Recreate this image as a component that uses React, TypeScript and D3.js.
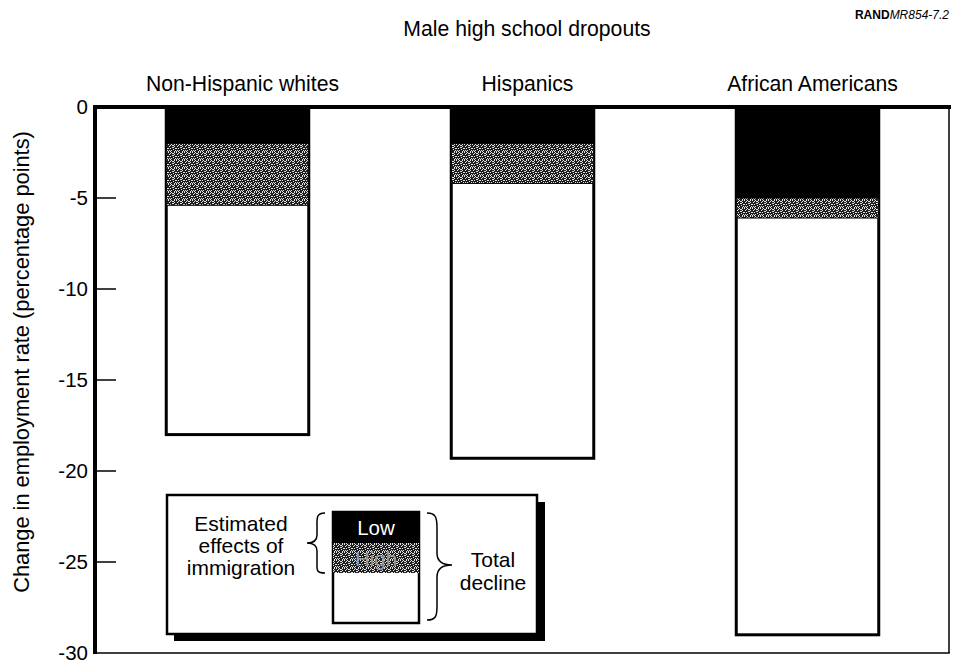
import React from "react";
import * as d3 from "d3";

const categories = ["Non-Hispanic whites", "Hispanics", "African Americans"];
const lowEffect = [-2.0, -2.0, -5.0];
const highEffect = [-5.4, -4.2, -6.1];
const totalDecline = [-18.0, -19.3, -29.0];
const yTicks = [0, -5, -10, -15, -20, -25, -30];

const W = 956;
const H = 664;
const FONT = "'Liberation Sans', Arial, Helvetica, sans-serif";

// fixed speckle positions inside the stipple tile (texture styling)
const speckles: [number, number][] = [
  [0, 0], [3, 0], [5, 1], [1, 2], [6, 2], [4, 3], [0, 4], [2, 4],
  [7, 4], [5, 5], [1, 6], [3, 6], [6, 7], [2, 7], [4, 1], [7, 6],
  [0, 7], [6, 0], [2, 1], [5, 3],
];

export default function App() {
  const x = d3
    .scaleBand<string>()
    .domain(categories)
    .range([95, 950])
    .paddingInner(0.5)
    .paddingOuter(0.25);
  const y = d3.scaleLinear().domain([0, -30]).range([107, 653]);

  const bw = x.bandwidth();

  return (
    <svg
      width={W}
      height={H}
      viewBox={`0 0 ${W} ${H}`}
      style={{ position: "absolute", left: 0, top: 0, background: "#fff" }}
      fontFamily={FONT}
    >
      <defs>
        <pattern id="stipple" width={8} height={8} patternUnits="userSpaceOnUse">
          <rect width={8} height={8} fill="#1e1e1e" />
          {speckles.map(([sx, sy], i) => (
            <rect key={i} x={sx} y={sy} width={1} height={1} fill="#e6e6e6" />
          ))}
        </pattern>
      </defs>
      <rect width={W} height={H} fill="#fff" />

      {/* Title */}
      <text x={527} y={36} fontSize={21.2} textAnchor="middle" fill="#000">
        Male high school dropouts
      </text>
      <text x={949} y={19} fontSize={12} textAnchor="end" fill="#000">
        <tspan fontWeight="bold">RAND</tspan>
        <tspan fontStyle="italic">MR854-7.2</tspan>
      </text>

      {/* Category labels */}
      {categories.map((c) => (
        <text
          key={c}
          x={(x(c) as number) + bw / 2 + 5}
          y={91}
          fontSize={21.2}
          textAnchor="middle"
          fill="#000"
        >
          {c}
        </text>
      ))}

      {/* Bars */}
      {categories.map((c, i) => {
        const bx = x(c) as number;
        return (
          <g key={c}>
            <rect
              x={bx}
              y={y(0)}
              width={bw}
              height={y(totalDecline[i]) - y(0)}
              fill="#fff"
              stroke="#000"
              strokeWidth={3}
            />
            <rect
              x={bx}
              y={y(lowEffect[i])}
              width={bw}
              height={y(highEffect[i]) - y(lowEffect[i])}
              fill="url(#stipple)"
              stroke="#000"
              strokeWidth={1}
            />
            <rect
              x={bx}
              y={y(0)}
              width={bw}
              height={y(lowEffect[i]) - y(0)}
              fill="#000"
            />
          </g>
        );
      })}

      {/* Frame */}
      <line x1={949} x2={949} y1={y(0)} y2={y(-30)} stroke="#000" strokeWidth={1.5} />
      <line x1={95} x2={949.75} y1={y(-30)} y2={y(-30)} stroke="#000" strokeWidth={1.5} />
      <line x1={93} x2={951} y1={y(0)} y2={y(0)} stroke="#000" strokeWidth={4} />
      <line x1={95} x2={95} y1={y(0) - 2} y2={y(-30) + 1} stroke="#000" strokeWidth={4} />

      {/* Y ticks */}
      {yTicks.map((t) => (
        <g key={t}>
          {t !== 0 && t !== -30 && (
            <line x1={95} x2={116} y1={y(t)} y2={y(t)} stroke="#000" strokeWidth={1.5} />
          )}
          <text
            x={88}
            y={y(t)}
            dy="0.36em"
            fontSize={20.5}
            textAnchor="end"
            fill="#000"
          >
            {t}
          </text>
        </g>
      ))}

      {/* Y axis label */}
      <text
        transform="translate(29,362) rotate(-90)"
        fontSize={21.8}
        textAnchor="middle"
        fill="#000"
      >
        Change in employment rate (percentage points)
      </text>

      {/* Legend */}
      <g>
        <rect x={174} y={502} width={371} height={139} fill="#000" />
        <rect x={167} y={495} width={370} height={139} fill="#fff" stroke="#000" strokeWidth={2.5} />
        <rect x={333} y={512} width={86} height={111} fill="#fff" stroke="#000" strokeWidth={2.5} />
        <rect x={333} y={543} width={86} height={30} fill="url(#stipple)" />
        <rect x={333} y={512} width={86} height={31} fill="#000" />
        <text x={376} y={535} fontSize={20.5} textAnchor="middle" fill="#fff">
          Low
        </text>
        <text x={376} y={566} fontSize={20.5} textAnchor="middle" fill="#9a9a9a">
          High
        </text>
        <path
          d="M 325 513 C 316 513 317 518 317 527 L 317 535 C 317 540 314 543 307 543 C 314 543 317 546 317 551 L 317 562 C 317 570 316 573 325 573"
          fill="none"
          stroke="#000"
          strokeWidth={1.5}
        />
        <path
          d="M 427 513 C 436 513 437 518 437 528 L 437 553 C 437 561 442 565 452 565 C 442 565 437 569 437 577 L 437 606 C 437 616 436 620 427 620"
          fill="none"
          stroke="#000"
          strokeWidth={1.5}
        />
        <text fontSize={21} textAnchor="middle" fill="#000">
          <tspan x={241} y={531}>Estimated</tspan>
          <tspan x={241} y={553}>effects of</tspan>
          <tspan x={241} y={575}>immigration</tspan>
        </text>
        <text fontSize={21} textAnchor="middle" fill="#000">
          <tspan x={493} y={567}>Total</tspan>
          <tspan x={493} y={590}>decline</tspan>
        </text>
      </g>
    </svg>
  );
}
